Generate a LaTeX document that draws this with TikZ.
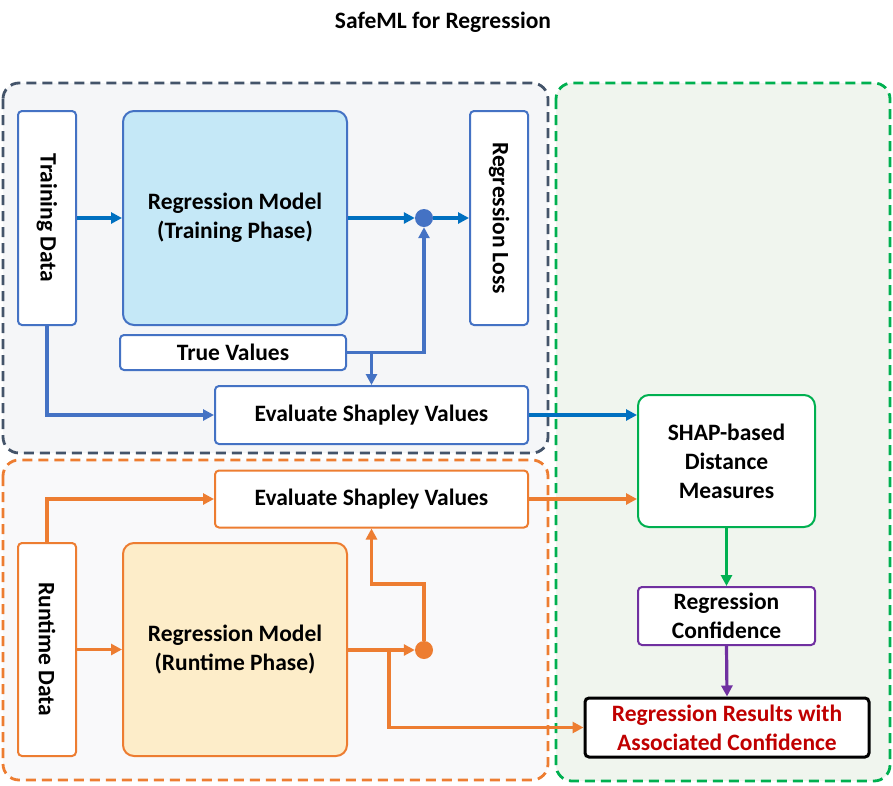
\documentclass[tikz,border=0pt]{standalone}
\usepackage{fontspec}
\setmainfont{Carlito}
\usetikzlibrary{arrows.meta}
\definecolor{cblue}{HTML}{0070C0}
\definecolor{bblue}{HTML}{4472C4}
\definecolor{corange}{HTML}{ED7D31}
\definecolor{cgreen}{HTML}{00B050}
\definecolor{cpurple}{HTML}{7030A0}
\definecolor{cgray}{HTML}{44546A}
\definecolor{cred}{HTML}{C00000}
\definecolor{lblue}{HTML}{C5E8F7}
\definecolor{lorange}{HTML}{FDEDC9}
\definecolor{fgray}{HTML}{F5F6F8}
\definecolor{forange}{HTML}{F9F9FA}
\definecolor{fgreen}{HTML}{F0F5EE}
\tikzset{
  txt/.style={font=\fontsize{23.5}{29}\selectfont\bfseries, align=center, inner sep=0pt},
  box/.style={txt, draw=#1, line width=2pt, rounded corners=4pt, fill=white},
  bigbox/.style={txt, draw=#1, line width=2pt, rounded corners=11pt},
  container/.style={draw=#1, line width=2.8pt, dash pattern=on 10pt off 6pt, rounded corners=16pt},
  arr/.style={draw=#1, line width=3.2pt, -{Triangle[length=11pt,width=11pt]}},
}
\begin{document}
\begin{tikzpicture}[x=1pt,y=-1pt]
\useasboundingbox (0,0) rectangle (893,785);
% containers
\draw[container=cgray, fill=fgray] (3,83) rectangle (548,453);
\draw[container=corange, fill=forange] (3,460) rectangle (548,780);
\draw[container=cgreen, fill=fgreen] (556,83) rectangle (890,781);
% title
\node[txt] (title) at (443,22) {SafeML for Regression};
% training part
\node[box=bblue, minimum width=58pt, minimum height=214pt] (td) at (47,218) {\rotatebox{-90}{Training Data}};
\node[bigbox=bblue, fill=lblue, minimum width=224pt, minimum height=214pt] (rmt) at (235,218) {Regression Model\\(Training Phase)};
\node[box=bblue, minimum width=58pt, minimum height=214pt] (rl) at (499,218) {\rotatebox{-90}{Regression Loss}};
\node[circle, fill=bblue, minimum size=18pt, inner sep=0pt] (dt) at (424,218) {};
\node[box=bblue, minimum width=226pt, minimum height=35pt] (tv) at (233,352.5) {True Values};
\node[box=bblue, minimum width=313pt, minimum height=58pt] (evt) at (371.5,415) {Evaluate Shapley Values};
% runtime part
\node[box=corange, minimum width=313pt, minimum height=57pt] (evb) at (371.5,499) {Evaluate Shapley Values};
\node[box=corange, minimum width=58pt, minimum height=213pt] (rd) at (47,649.5) {\rotatebox{-90}{Runtime Data}};
\node[bigbox=corange, fill=lorange, minimum width=224pt, minimum height=213pt] (rmr) at (235,649.5) {Regression Model\\(Runtime Phase)};
\node[circle, fill=corange, minimum size=18pt, inner sep=0pt] (od) at (424,650) {};
% right part
\node[bigbox=cgreen, fill=white, minimum width=177pt, minimum height=132pt] (shap) at (726.5,461) {SHAP-based\\Distance\\Measures};
\node[box=cpurple, minimum width=177pt, minimum height=58pt] (conf) at (726.5,616) {Regression\\Confidence};
\node[box=black, line width=3pt, text=cred, minimum width=284pt, minimum height=59pt] (res) at (727,727.5) {Regression Results with\\Associated Confidence};
% coordinates
\coordinate (brk) at (389,650);
\coordinate (up) at (424,584);
% training connectors
\draw[arr=cblue] (td.east |- rmt.west) -- (rmt.west);
\draw[arr=cblue] (rmt.east) -- (dt.west);
\draw[arr=cblue] (dt.east) -- (rl.west |- dt.east);
\draw[arr=bblue] (tv.east) -| (dt.south);
\draw[arr=bblue] (tv.east -| evt.north) -- (evt.north);
\draw[arr=bblue] (td.south) |- (evt.west);
\draw[arr=cblue] (evt.east) -- (evt.east -| shap.west);
% runtime connectors
\draw[arr=corange] (rd.east |- rmr.west) -- (rmr.west);
\draw[arr=corange] (rmr.east |- od.west) -- (od.west);
\draw[arr=corange] (rd.north) |- (evb.west);
\draw[arr=corange] (od.north) -- (up) -| (evb.south);
\draw[arr=corange] (brk) |- (res.west);
\draw[arr=corange] (evb.east) -- (evb.east -| shap.west);
% right connectors
\draw[arr=cgreen] (shap.south) -- (conf.north);
\draw[arr=cpurple] (conf.south) -- (res.north);
\end{tikzpicture}
\end{document}
